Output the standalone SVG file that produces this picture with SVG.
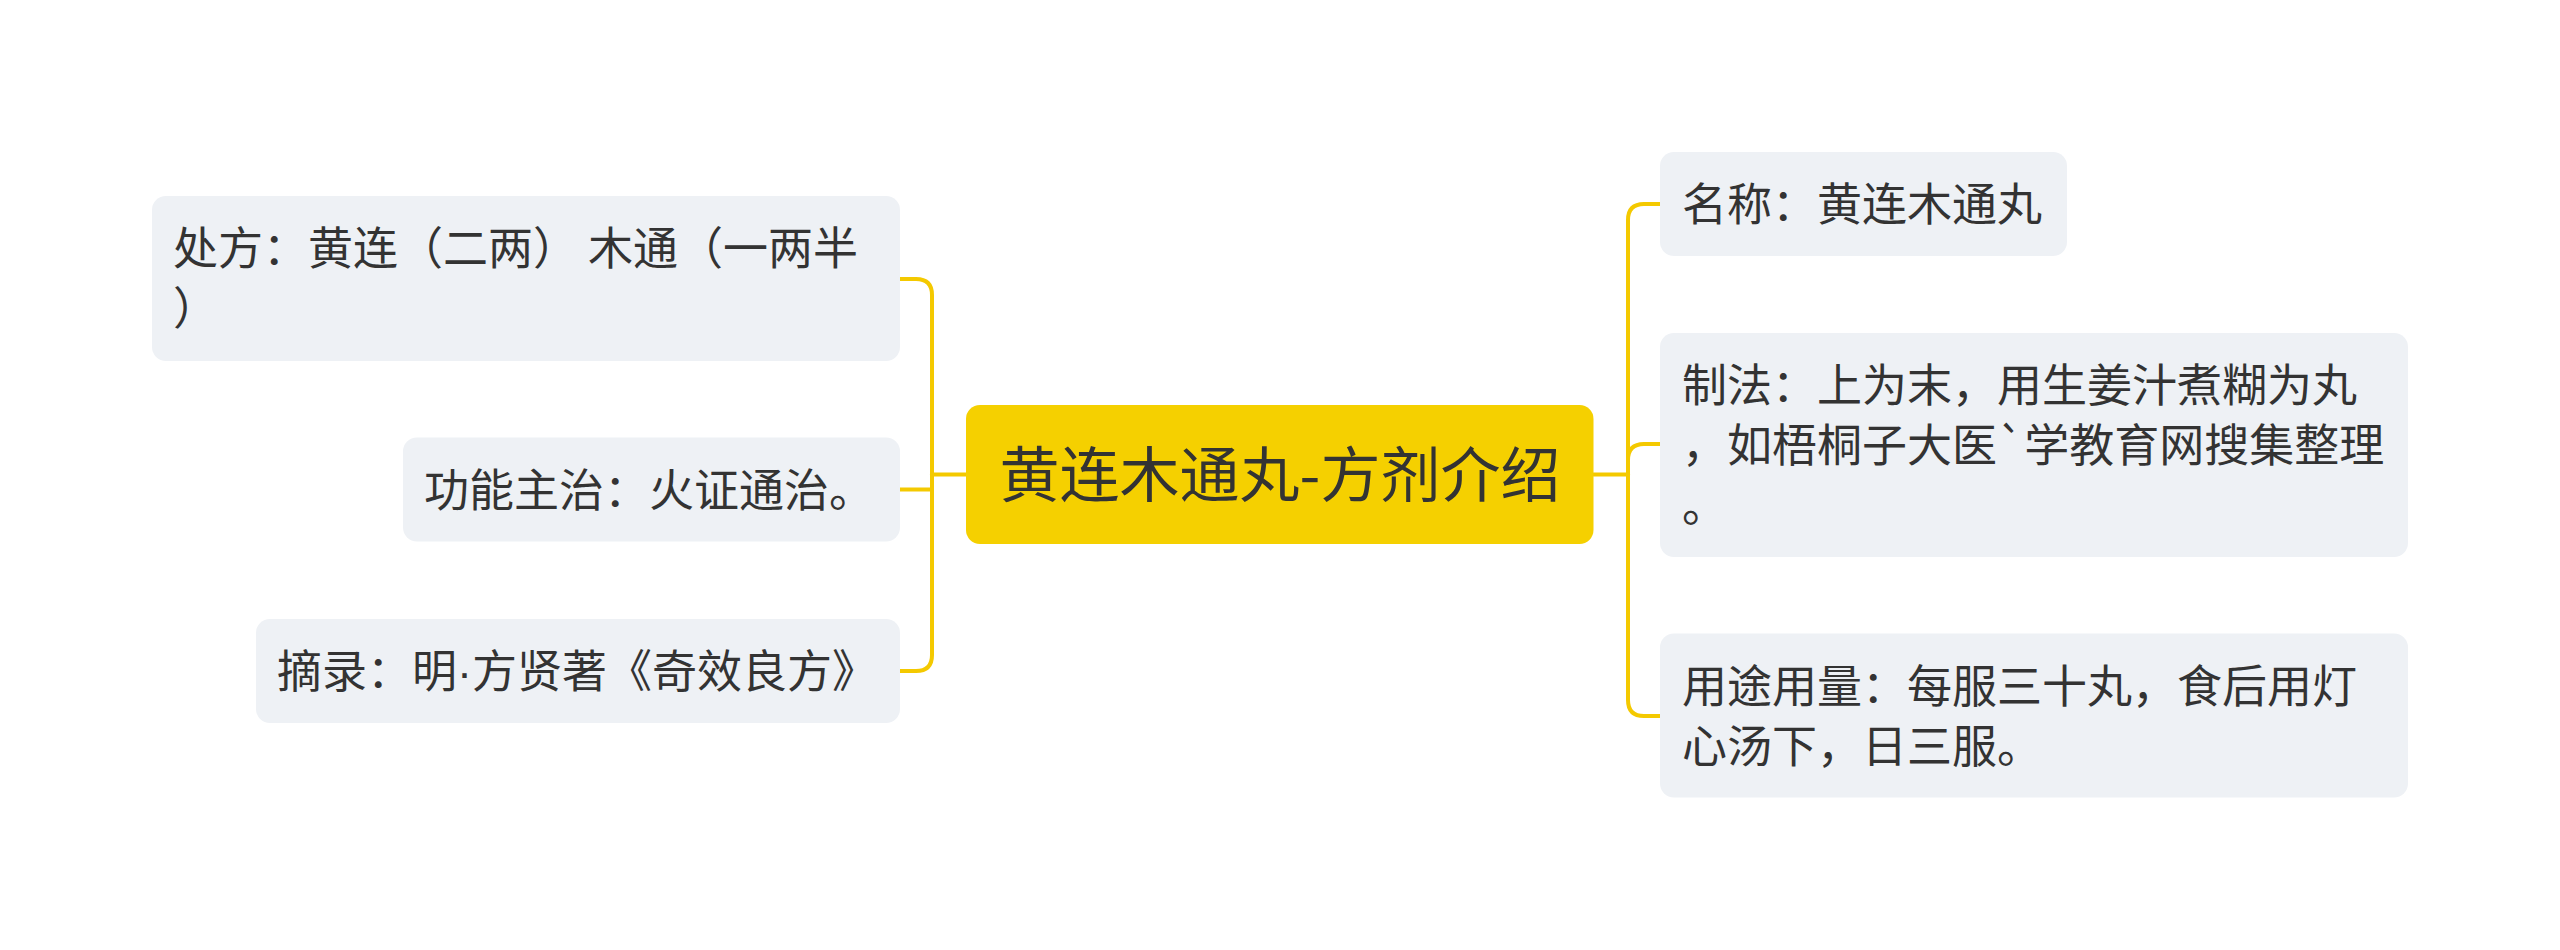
<svg xmlns="http://www.w3.org/2000/svg" width="2560" height="950" viewBox="0 0 2560 950">
<style>
.node rect{fill:#EEF1F5;}
.node text{font-family:"Noto Sans CJK SC","Noto Sans",sans-serif;font-size:45px;fill:#333333;}
.root rect{fill:#F5D000;}
.root text{font-family:"Noto Sans CJK SC","Noto Sans",sans-serif;font-size:60px;fill:#333333;text-anchor:middle;}
.conn path{fill:none;stroke:#F4C900;stroke-width:4;stroke-linecap:round;stroke-linejoin:round;}
.latin{font-family:"Liberation Sans",sans-serif;}
</style>
<rect width="2560" height="950" fill="#FFFFFF"/>
<g class="conn" id="connectors">
<path d="M966 474.5 H932"/>
<path d="M932 474.5 V295 Q932 279 916 279 H900"/>
<path d="M932 474.5 V489.5 H900"/>
<path d="M932 474.5 V655 Q932 671 916 671 H900"/>
<path d="M1593.5 474.5 H1628"/>
<path d="M1628 474.5 V220 Q1628 204 1644 204 H1660"/>
<path d="M1628 474.5 V460 Q1628 444 1644 444 H1660"/>
<path d="M1628 474.5 V700 Q1628 716 1644 716 H1660"/>
</g>
<g class="root" id="root">
<rect x="966" y="405" width="627.5" height="139" rx="14"/>
<text x="1280" y="497">黄连木通丸-方剂介绍</text>
</g>
<g class="node" id="n1">
<rect x="152" y="196" width="748" height="165" rx="14"/>
<text x="173" y="265">处方：黄连（二两） 木通（一两半</text>
<text x="173" y="325">）</text>
</g>
<g class="node" id="n2">
<rect x="403" y="437.5" width="497" height="104" rx="14"/>
<text x="424" y="506.5">功能主治：火证通治。</text>
</g>
<g class="node" id="n3">
<rect x="256" y="619" width="644" height="104" rx="14"/>
<text x="277" y="688">摘录：明<tspan class="latin">·</tspan>方贤著《奇效良方》</text>
</g>
<g class="node" id="n4">
<rect x="1660" y="152" width="407" height="104" rx="14"/>
<text x="1682" y="221">名称：黄连木通丸</text>
</g>
<g class="node" id="n5">
<rect x="1660" y="333" width="748" height="224" rx="14"/>
<text x="1682" y="402">制法：上为末，用生姜汁煮糊为丸</text>
<text x="1682" y="462">，如梧桐子大医`学教育网搜集整理</text>
<text x="1682" y="522">。</text>
</g>
<g class="node" id="n6">
<rect x="1660" y="633.5" width="748" height="164" rx="14"/>
<text x="1682" y="702.5">用途用量：每服三十丸，食后用灯</text>
<text x="1682" y="762.5">心汤下，日三服。</text>
</g>
</svg>
